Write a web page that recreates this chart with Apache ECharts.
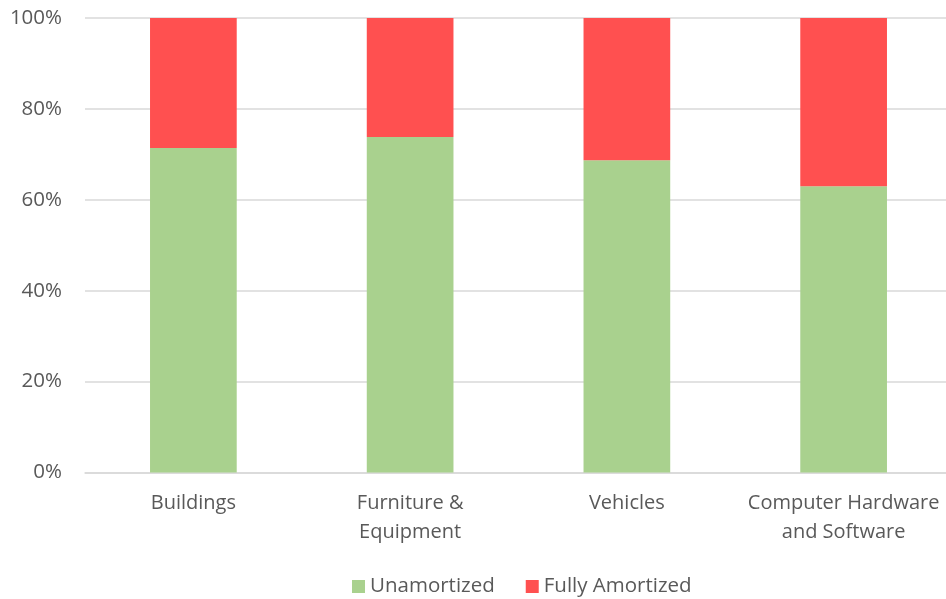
<!DOCTYPE html>
<html><head><meta charset="utf-8">
<script src="https://cdn.jsdelivr.net/npm/echarts@6/dist/echarts.min.js"></script>
<style>html,body{margin:0;padding:0;background:#fff}#c{width:946px;height:599px}</style>
</head><body><div id="c"></div>
<script>
const categories = ['Buildings', 'Furniture &\nEquipment', 'Vehicles', 'Computer Hardware\nand Software'];
const unamortized = [71.4, 73.8, 68.7, 63.0];
const fullyAmortized = [28.6, 26.2, 31.3, 37.0];
const seriesNames = ['Unamortized', 'Fully Amortized'];

const txt = '#595959';
const font = "'Open Sans', 'Noto Sans', sans-serif";
const chart = echarts.init(document.getElementById('c'), null, {renderer: 'canvas'});
chart.setOption({
  animation: false,
  textStyle: {fontFamily: font},
  grid: {left: 85, width: 867, top: 18, bottom: 126.5, containLabel: false, outerBoundsMode: 'none'},
  legend: {
    top: 571, left: 347, itemWidth: 13, itemHeight: 13, itemGap: 31,
    icon: 'rect',
    textStyle: {color: txt, fontSize: 20.5, fontFamily: font},
    data: seriesNames
  },
  xAxis: {
    type: 'category', data: categories,
    axisLine: {show: true, lineStyle: {color: '#D9D9D9', width: 1.5}},
    axisTick: {show: false},
    axisLabel: {color: txt, fontSize: 20, fontFamily: font, lineHeight: 29, margin: 16, interval: 0}
  },
  yAxis: {
    type: 'value', min: 0, max: 100, interval: 20,
    axisLine: {show: false}, axisTick: {show: false},
    splitLine: {lineStyle: {color: '#D9D9D9', width: 1.5}},
    axisLabel: {color: txt, fontSize: 20.5, fontFamily: font, margin: 23, formatter: '{value}%'}
  },
  series: [
    {name: seriesNames[0], type: 'bar', stack: 's', data: unamortized, barWidth: '40%',
     itemStyle: {color: '#A9D18E'}},
    {name: seriesNames[1], type: 'bar', stack: 's', data: fullyAmortized, barWidth: '40%',
     itemStyle: {color: '#FF5050'}}
  ]
});
</script></body></html>
